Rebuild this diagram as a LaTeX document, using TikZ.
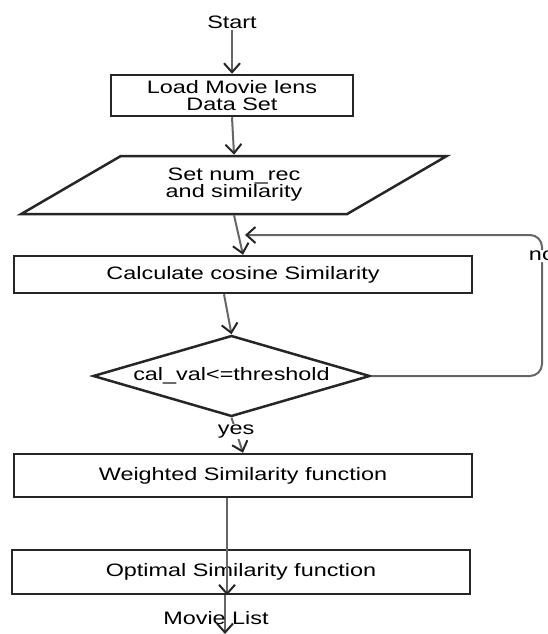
\documentclass[tikz,border=0pt]{standalone}
\usepackage{fontspec}
\setmainfont{Liberation Sans}[FakeStretch=1.3]
\usetikzlibrary{shapes.geometric,arrows.meta}

\begin{document}
\begin{tikzpicture}[
		base/.style={draw=black!85, line width=2.5pt, minimum width=458pt, inner sep=0pt},
		label/.style={inner sep=1pt},
		link/.style={-{Straight Barb[length=9pt, width=16pt, line width=2pt, color=black!85]}, draw=black!60, line width=2pt},
		font=\fontsize{18pt}{17pt}\selectfont, align=center
	]

	\useasboundingbox (0pt,0pt) rectangle (548pt,-634pt);

	\node[label] at (232pt, -22pt) (start) {Start};
	\node[base, minimum width=242pt, minimum height=41pt] at (232pt, -95.5pt) (load) {Load Movie lens\\Data Set};
	\node[base, trapezium, trapezium left angle=29, trapezium right angle=151, trapezium stretches=true,
		minimum width=426pt, minimum height=58pt] at (234pt, -185pt) (setpar) {Set num\_rec\\and similarity};
	\node[base, minimum height=37pt] at (243pt, -274.5pt) (calc) {Calculate cosine Similarity};
	\node[base, diamond, aspect=3.4, minimum width=277pt, minimum height=81pt] at (231.5pt, -376pt) (check) {cal\_val<=threshold};
	\node[base, minimum height=43pt] at (243pt, -475.5pt) (weighted) {Weighted Similarity function};
	\node[base, minimum height=44pt] at (241pt, -572pt) (optimal) {Optimal Similarity function};

	\coordinate (back) at (245pt, -235pt);
	\coordinate (out) at (225pt, -634pt);

	\draw[link] (start.south) -- (load.north);
	\draw[link] (load.south) -- (setpar.north);
	\draw[link] (setpar.south) -- (calc.north);
	\draw[link] ([xshift=-19pt]calc.south) -- (check.north);
	\draw[link] (check.south) -- node[label, fill=white, pos=0.4] (yes) {yes} (weighted.north);
	\draw[link] ([xshift=-16pt]weighted.south) -- ([xshift=-14pt]optimal.south);
	\draw[link] ([xshift=-16pt]optimal.south) -- node[label, pos=0.6, xshift=-9pt] (movies) {Movie List} (out);

	% loop back when the threshold is not met
	\draw[link, rounded corners=12pt] (check.east) -- (542pt, -376pt) -- node[label, fill=white, pos=0.85] (no) {no} (542pt, -235pt) -- (back);

\end{tikzpicture}
\end{document}
